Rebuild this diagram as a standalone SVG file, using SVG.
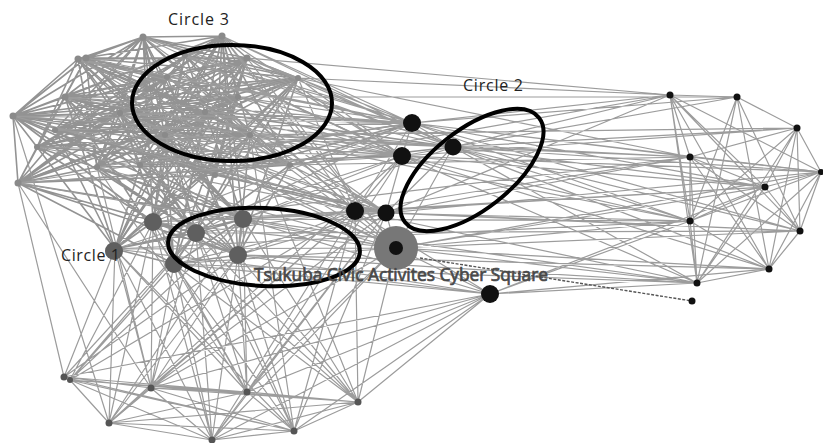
<svg xmlns="http://www.w3.org/2000/svg" width="823" height="443" viewBox="0 0 823 443">
  <style>
    .edge { fill: none; stroke: #9c9c9c; stroke-width: 1.2; stroke-linejoin: round; }
    .edge-dense { fill: none; stroke: #939393; stroke-width: 1.6; stroke-linejoin: round; }
    .n-light { fill: #8a8a8a; }
    .n-mid { fill: #5f5f5f; }
    .n-dark { fill: #111; }
    .n-low { fill: #555; }
    .ring { fill: none; stroke: #000; stroke-width: 4; }
    .lbl { font-family: "Open Sans", "Liberation Sans", sans-serif; font-size: 16px; fill: #222; }
    .hub-lbl { font-family: "Open Sans", "Liberation Sans", sans-serif; font-size: 18px; fill: #484848; stroke: #484848; stroke-width: 0.7; }
  </style>

  <g id="connectors">
    <!-- upper-left community, near-complete mesh -->
    <path class="edge-dense" d="M13 116 L143 37 L18 183 L222 36 L37 147 L247 58 L97 167 L298 78 L65 97 L250 135 L78 59 L238 97 L165 135 L86 58 L167 77 L120 113 L13 116
      M143 37 L222 36 L78 59 L247 58 L86 58 L238 97 L65 97 L298 78 L13 116 L250 135 L37 147 L165 135 L18 183 L167 77 L97 167 L120 113 L143 37
      M13 116 L78 59 L143 37 L247 58 L298 78 L250 135 L97 167 L18 183 L13 116 L65 97 L120 113 L165 135 L238 97 L222 36 L167 77 L86 58 L37 147 L120 113
      M78 59 L222 36 L65 97 L247 58 L37 147 L298 78 L18 183 L238 97 L13 116 L167 77 L250 135 L143 37 L97 167 L86 58 L165 135 L298 78
      M86 58 L298 78 L120 113 L247 58 L165 135 L222 36 L250 135 L167 77 L37 147 L238 97 L18 183 L120 113 L78 59 L97 167 L143 37 L65 97 L167 77 L13 116 L238 97
      M18 183 L65 97 L143 37 L165 135 L298 78 L97 167 L222 36 L120 113 L250 135 L86 58 L13 116 L247 58 L165 135 L37 147 L78 59 L167 77 L18 183
      M13 116 L37 147 L18 183 L97 167 L165 135 L250 135 L298 78 L247 58 L222 36 L143 37 L86 58 L65 97 L13 116
      M143 37 L298 78 L65 97 L222 36 L97 167 L247 58 L18 183 L298 78 L37 147 L222 36 L13 116 L165 135 L78 59 L250 135 L120 113 L238 97 L86 58 L97 167"/>
    <!-- inner members of the upper-left community -->
    <path class="edge-dense" d="M205 112 L13 116 L140 165 L298 78 L215 175 L143 37 L290 165 L78 59 L205 112 L18 183 L185 55 L250 135 L55 130 L222 36 L140 165 L247 58 L215 175 L65 97 L290 165 L37 147 L205 112 L412 123 L140 165 L402 156 L185 55 L355 211 L55 130 L386 213 L215 175 L412 123 L290 165 L453 147 L205 112 L153 222 L185 55 L243 219 L140 165 L196 233 L290 165 L238 255 L55 130 L115 249 L205 112 L174 264
      M185 55 L97 167 L290 165 L13 116 L215 175 L86 58 L205 112 L238 97 L140 165 L120 113 L55 130 L298 78 L185 55 L165 135 L215 175 L18 183 L290 165 L167 77 L140 165 L247 58 L55 130 L143 37 L290 165 L222 36 L215 175 L250 135 L205 112 L65 97"/>
    <!-- upper-left community to the mid nodes -->
    <path class="edge-dense" d="M13 116 L153 222 L143 37 L196 233 L78 59 L243 219 L222 36 L238 255 L65 97 L115 249 L247 58 L174 264 L120 113 L243 219 L37 147 L153 222 L238 97 L196 233 L18 183 L238 255 L167 77 L115 249 L298 78 L174 264 L165 135 L153 222 L250 135 L196 233 L97 167 L243 219 L86 58
      M115 249 L37 147 L243 219 L13 116 L196 233 L247 58 L153 222 L298 78 L238 255 L143 37 L174 264 L222 36 L115 249 L165 135 L243 219 L18 183 L174 264 L65 97 L196 233 L120 113 L238 255 L250 135 L115 249
      M153 222 L196 233 L243 219 L238 255 L174 264 L115 249 L153 222 L238 255 L196 233 L174 264 L243 219 L115 249 L196 233"/>
    <!-- upper-left and mid nodes to the central dark nodes -->
    <path class="edge" d="M412 123 L143 37 L402 156 L222 36 L355 211 L13 116 L386 213 L78 59 L396 248 L247 58 L412 123 L65 97 L402 156 L298 78 L355 211 L120 113 L386 213 L167 77 L396 248 L18 183 L412 123 L238 97 L402 156 L37 147 L355 211 L250 135 L386 213 L165 135 L396 248 L97 167 L412 123 L86 58
      M412 123 L298 78 L453 147 L247 58 L402 156 L250 135 L453 147 L165 135 L386 213 L153 222 L412 123 L196 233 L355 211 L243 219 L402 156 L115 249 L396 248 L174 264 L386 213 L238 255 L355 211 L153 222 L396 248 L243 219 L453 147 L238 97
      M412 123 L402 156 L453 147 L412 123 L355 211 L386 213 L396 248 L355 211 L402 156 L386 213 L453 147 L396 248 L490 294 L355 211
      M412 123 L185 55 M412 123 L222 36 M412 123 L13 116 M412 123 L167 77 M412 123 L120 113 M402 156 L143 37 M402 156 L78 59 M402 156 L18 183 M402 156 L165 135
      M453 147 L143 37 M453 147 L78 59 M453 147 L13 116 M453 147 L120 113 M355 211 L37 147 M355 211 L222 36 M386 213 L13 116 M386 213 L143 37 M396 248 L65 97 M396 248 L222 36
      M412 123 L78 59 M412 123 L205 112 M412 123 L55 130 M412 123 L140 165 M402 156 L185 55 M402 156 L247 58 M402 156 L205 112 M402 156 L55 130 M453 147 L185 55 M453 147 L222 36
      M490 294 L243 219 M490 294 L174 264 M490 294 L115 249 M490 294 L238 255"/>
    <!-- right community mesh -->
    <path class="edge" d="M670 95 L737 97 L797 128 L821 172 L800 231 L769 269 L697 283 L690 221 L690 157 L670 95
      M670 95 L765 187 L697 283 L737 97 L800 231 L690 157 L769 269 L670 95 L821 172 L690 221 L797 128 L697 283
      M737 97 L690 221 L765 187 L797 128 L690 157 L821 172 L769 269 L737 97 L800 231 L670 95 L697 283 L821 172
      M690 157 L765 187 L800 231 L797 128 L769 269 L690 221 L821 172 L765 187 L670 95 L690 221 L737 97 L697 283 L690 157"/>
    <!-- long links between the two sides -->
    <path class="edge" d="M670 95 L412 123 L737 97 L453 147 L797 128 L402 156 L821 172 L412 123 L690 157 L453 147 L765 187 L402 156 L690 221 L453 147 L800 231 L396 248 L769 269 L453 147 L697 283 L396 248 L690 221 L386 213 L690 157 L355 211 L765 187 L396 248 L821 172 L453 147 L670 95 L298 78 L690 157 L250 135 L690 221 L243 219 L697 283 L238 255 L769 269 L490 294 L690 221
      M247 58 L670 95 L386 213 L800 231 L355 211 L697 283 L490 294 L765 187 L412 123 L690 221 L402 156 L697 283
      M115 249 L690 221 M174 264 L697 283 M153 222 L690 157 M196 233 L800 231 M238 97 L737 97 M250 135 L797 128
      M412 123 L800 231 M402 156 L769 269 M386 213 L821 172 M243 219 L765 187 M290 165 L690 157 M215 175 L670 95"/>
    <path fill="none" stroke="#555" stroke-width="1.4" stroke-dasharray="3 1.5" d="M420 258 L692 301"/>
    <!-- lower community mesh -->
    <path class="edge" d="M64 377 L151 388 L247 392 L358 402 L294 431 L212 440 L109 423 L70 380 L247 392 L109 423 L151 388 L212 440 L358 402 L70 380 L294 431 L151 388 L358 402
      M70 380 L212 440 L247 392 L294 431 L109 423 L358 402 L212 440 L151 388 L294 431 L64 377 L247 392"/>
    <!-- lower community to the upper part -->
    <path class="edge" d="M64 377 L115 249 L109 423 L153 222 L151 388 L196 233 L212 440 L243 219 L247 392 L238 255 L294 431 L174 264 L358 402 L355 211 L294 431 L386 213 L212 440 L396 248 L151 388 L355 211 L109 423 L243 219 L70 380 L174 264 L247 392 L115 249 L151 388 L238 255 L358 402 L153 222 L212 440 L115 249 L294 431 L196 233 L70 380
      M64 377 L196 233 L358 402 L243 219 L109 423 L238 255 L64 377 L18 183 L151 388 L97 167 L247 392 L165 135 L294 431 L250 135 L358 402 L396 248 L247 392 L386 213 L151 388 L174 264 L212 440 L355 211 L70 380 L153 222 L247 392 L402 156 L109 423 L13 116
      M490 294 L64 377 M490 294 L151 388 M490 294 L247 392 M490 294 L358 402 M490 294 L294 431 M490 294 L212 440"/>
  </g>

  <!-- upper-left community -->
  <g id="node-group-upper-left">
    <circle class="n-light" cx="143" cy="37" r="3.5"/>
    <circle class="n-light" cx="222" cy="36" r="3.5"/>
    <circle class="n-light" cx="78" cy="59" r="3.5"/>
    <circle class="n-light" cx="86" cy="58" r="3.5"/>
    <circle class="n-light" cx="247" cy="58" r="3.5"/>
    <circle class="n-light" cx="65" cy="97" r="3.5"/>
    <circle class="n-light" cx="13" cy="116" r="3.5"/>
    <circle class="n-light" cx="120" cy="113" r="3"/>
    <circle class="n-light" cx="37" cy="147" r="3"/>
    <circle class="n-light" cx="18" cy="183" r="3.5"/>
    <circle class="n-light" cx="97" cy="167" r="3"/>
    <circle class="n-light" cx="167" cy="77" r="3"/>
    <circle class="n-light" cx="165" cy="135" r="3"/>
    <circle class="n-light" cx="238" cy="97" r="3"/>
    <circle class="n-light" cx="250" cy="135" r="3"/>
    <circle class="n-light" cx="298" cy="78" r="3"/>
    <circle class="n-light" cx="205" cy="112" r="3"/>
    <circle class="n-light" cx="140" cy="165" r="3"/>
    <circle class="n-light" cx="215" cy="175" r="3"/>
    <circle class="n-light" cx="290" cy="165" r="3"/>
    <circle class="n-light" cx="55" cy="130" r="3"/>
    <circle class="n-light" cx="185" cy="55" r="3"/>
  </g>

  <g id="node-group-mid">
    <circle class="n-mid" cx="153" cy="222" r="9"/>
    <circle class="n-mid" cx="196" cy="233" r="9"/>
    <circle class="n-mid" cx="243" cy="219" r="9"/>
    <circle class="n-mid" cx="238" cy="255" r="9"/>
    <circle class="n-mid" cx="114" cy="251" r="9"/>
    <circle class="n-mid" cx="174" cy="264" r="9"/>
  </g>

  <g id="node-group-center">
    <circle class="n-dark" cx="412" cy="123" r="9"/>
    <circle class="n-dark" cx="402" cy="156" r="9"/>
    <circle class="n-dark" cx="453" cy="147" r="8.5"/>
    <circle class="n-dark" cx="355" cy="211" r="9"/>
    <circle class="n-dark" cx="386" cy="213" r="8.5"/>
    <circle class="n-dark" cx="490" cy="294" r="9"/>
  </g>

  <g id="node-hub">
    <circle cx="396" cy="248" r="22" fill="#777"/>
    <circle class="n-dark" cx="396" cy="248" r="7"/>
  </g>

  <g id="node-group-right">
    <circle class="n-dark" cx="670" cy="95" r="3.5"/>
    <circle class="n-dark" cx="737" cy="97" r="3.5"/>
    <circle class="n-dark" cx="797" cy="128" r="3.5"/>
    <circle class="n-dark" cx="690" cy="157" r="3.5"/>
    <circle class="n-dark" cx="765" cy="187" r="3.5"/>
    <circle class="n-dark" cx="821" cy="172" r="3"/>
    <circle class="n-dark" cx="690" cy="221" r="3.5"/>
    <circle class="n-dark" cx="800" cy="231" r="3.5"/>
    <circle class="n-dark" cx="769" cy="269" r="3.5"/>
    <circle class="n-dark" cx="697" cy="283" r="3.5"/>
    <circle class="n-dark" cx="692" cy="301" r="3.5"/>
  </g>

  <g id="node-group-lower">
    <circle class="n-low" cx="64" cy="377" r="3.5"/>
    <circle class="n-low" cx="70" cy="380" r="3"/>
    <circle class="n-low" cx="151" cy="388" r="3.5"/>
    <circle class="n-low" cx="247" cy="392" r="3.5"/>
    <circle class="n-low" cx="358" cy="402" r="3.5"/>
    <circle class="n-low" cx="109" cy="423" r="3.5"/>
    <circle class="n-low" cx="294" cy="431" r="3.5"/>
    <circle class="n-low" cx="212" cy="440" r="3.5"/>
  </g>

  <!-- highlighted groups -->
  <g id="circle-3">
    <ellipse class="ring" cx="232" cy="103" rx="100" ry="58"/>
    <text class="lbl" x="168" y="25" textLength="61">Circle 3</text>
  </g>
  <g id="circle-2">
    <ellipse class="ring" cx="472" cy="170" rx="85" ry="40" transform="rotate(-38 472 170)"/>
    <text class="lbl" x="463" y="91" textLength="60">Circle 2</text>
  </g>
  <g id="circle-1">
    <ellipse class="ring" cx="264" cy="247" rx="96" ry="39" transform="rotate(3 264 247)"/>
    <text class="lbl" x="61" y="261" textLength="59">Circle 1</text>
  </g>

  <g id="hub-label">
    <text class="hub-lbl" x="254" y="281" textLength="294" lengthAdjust="spacingAndGlyphs">Tsukuba Civic Activites Cyber Square</text>
  </g>
</svg>
